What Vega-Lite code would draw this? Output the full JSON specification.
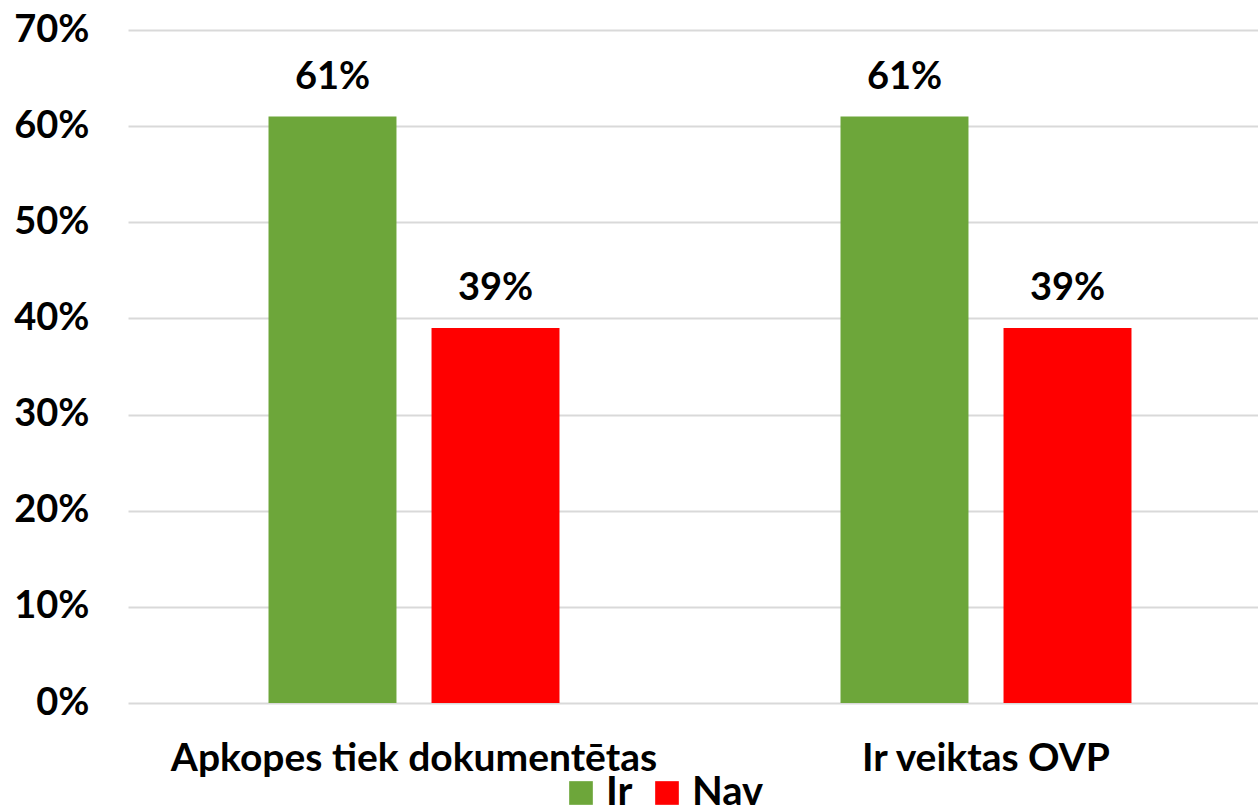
{
  "$schema": "https://vega.github.io/schema/vega-lite/v6.json",
  "autosize": "none",
  "width": 1144,
  "height": 673,
  "padding": {"left": 128, "top": 30, "right": 0, "bottom": 106},
  "background": "white",
  "config": {
    "view": {"stroke": null},
    "font": "Lato"
  },
  "data": {
    "values": [
      {"category": "Apkopes tiek dokumentētas", "series": "Ir", "value": 0.61},
      {"category": "Apkopes tiek dokumentētas", "series": "Nav", "value": 0.39},
      {"category": "Ir veiktas OVP", "series": "Ir", "value": 0.61},
      {"category": "Ir veiktas OVP", "series": "Nav", "value": 0.39}
    ]
  },
  "encoding": {
    "x": {
      "field": "category",
      "type": "nominal",
      "sort": null,
      "scale": {"paddingInner": 0, "paddingOuter": 0},
      "axis": {
        "title": null,
        "labelAngle": 0,
        "labelFont": "Lato",
        "labelFontSize": 39,
        "labelFontWeight": "bold",
        "labelColor": "#000000",
        "labelPadding": 36,
        "labelLimit": 0,
        "ticks": false,
        "domain": false
      }
    },
    "xOffset": {
      "field": "series",
      "type": "nominal",
      "sort": ["Ir", "Nav"],
      "scale": {"paddingInner": 0.215, "paddingOuter": 0.862}
    },
    "y": {
      "field": "value",
      "type": "quantitative",
      "scale": {"domain": [0, 0.7], "nice": false},
      "axis": {
        "title": null,
        "format": ".0%",
        "values": [0, 0.1, 0.2, 0.3, 0.4, 0.5, 0.6, 0.7],
        "labelFont": "Lato",
        "labelFontSize": 38,
        "labelFontWeight": "bold",
        "labelColor": "#000000",
        "labelPadding": 39,
        "ticks": false,
        "domain": false,
        "grid": true,
        "gridColor": "#D9D9D9",
        "gridWidth": 2
      }
    }
  },
  "layer": [
    {
      "mark": {"type": "bar"},
      "encoding": {
        "color": {
          "field": "series",
          "type": "nominal",
          "sort": ["Ir", "Nav"],
          "scale": {"domain": ["Ir", "Nav"], "range": ["#6DA63A", "#FF0000"]},
          "legend": {
            "title": null,
            "orient": "none",
            "direction": "horizontal",
            "legendX": 433,
            "legendY": 743,
            "symbolType": "square",
            "symbolSize": 560,
            "symbolStrokeWidth": 0,
            "symbolOpacity": 1,
            "labelFont": "Lato",
            "labelFontSize": 40,
            "labelFontWeight": "bold",
            "labelColor": "#000000",
            "labelOffset": 5,
            "columnPadding": 14
          }
        }
      }
    },
    {
      "mark": {
        "type": "text",
        "baseline": "bottom",
        "dy": -20,
        "font": "Lato",
        "fontSize": 38,
        "fontWeight": "bold",
        "color": "#000000"
      },
      "encoding": {
        "text": {"field": "value", "type": "quantitative", "format": ".0%"}
      }
    }
  ]
}
